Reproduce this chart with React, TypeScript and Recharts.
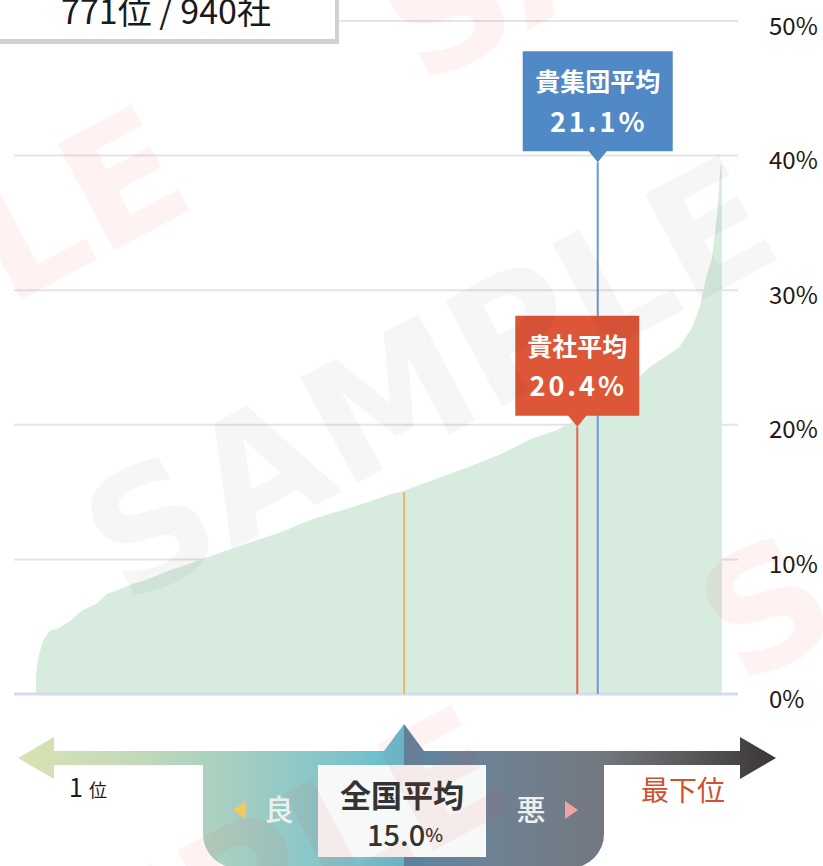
import React from "react";
import {
  ComposedChart,
  Area,
  XAxis,
  YAxis,
  CartesianGrid,
  ReferenceLine,
  ReferenceDot,
} from "recharts";

// 940社を率の低い順に並べた分布
const ranks = [
  1, 2, 4, 11, 20, 31, 48, 64, 84, 98, 112, 134, 147, 167, 184, 208, 225, 280,
  335, 380, 435, 490, 505, 544, 591, 636, 681, 714, 728, 742, 770, 800, 828,
  841, 864, 882, 900, 910, 919, 926, 930, 934, 938, 940,
];
const rates = [
  1.2, 1.8, 2.7, 4.0, 4.7, 4.85, 5.45, 6.2, 6.7, 7.45, 7.7, 8.2, 8.4, 8.8, 9.2,
  9.6, 9.95, 11.0, 12.0, 13.0, 13.9, 14.9, 15.1, 15.9, 16.8, 17.8, 19.0, 19.6,
  20.0, 20.4, 21.2, 22.3, 23.6, 24.3, 25.1, 25.8, 27.3, 28.8, 31.1, 32.3, 34.0,
  36.0, 39.3, 39.3,
];
const yTicks = [0, 10, 20, 30, 40, 50];

const national = { rank: 505, value: 15.0 };
const company = { rank: 742, value: 20.4, labelAt: 19.85, title: "貴社平均" };
const group = { rank: 770, value: 21.1, labelAt: 39.5, title: "貴集団平均" };

const data = ranks.map((r, i) => ({ rank: r, rate: rates[i] }));

const JP = "'Noto Sans CJK JP', 'Noto Sans', sans-serif";

const YTick = (props: any) => {
  const { x, y, payload } = props;
  return (
    <text
      x={x}
      y={y + 3}
      textAnchor="start"
      dominantBaseline="central"
      fontSize={24}
      fontFamily={JP}
      fill="#231815"
    >
      {payload.value}%
    </text>
  );
};

function Callout(props: any) {
  const { cx, cy, color, title, value, width } = props;
  if (cx == null || cy == null) return null;
  const h = 100;
  const tip = 11;
  const hw = 9;
  const top = cy - tip - h;
  const l = cx - width / 2;
  const r = cx + width / 2;
  const d = `M${l},${top} H${r} V${top + h} H${cx + hw} L${cx},${cy} L${cx - hw},${top + h} H${l} Z`;
  return (
    <g>
      <path d={d} fill={color} />
      <text
        x={cx}
        y={cy - 82}
        textAnchor="middle"
        dominantBaseline="central"
        fontSize={25}
        fontWeight={700}
        fontFamily={JP}
        fill="#fff"
      >
        {title}
      </text>
      <text
        x={cx + 1}
        y={cy - 42}
        textAnchor="middle"
        dominantBaseline="central"
        fontSize={27}
        fontWeight={700}
        letterSpacing={3}
        fontFamily={JP}
        fill="#fff"
      >
        {value.toFixed(1)}%
      </text>
    </g>
  );
}

function BottomScale() {
  const shape =
    "M18,758 L54,737 L54,751 L384,751 L404,724 L424,751 L740,751 L740,737 L776,758 L740,779 L740,765 L604,765 L604,834 A34,34 0 0 1 570,868 L237,868 A34,34 0 0 1 203,834 L203,765 L54,765 L54,779 Z";
  return (
    <g>
      <defs>
        <linearGradient id="scaleGrad" gradientUnits="userSpaceOnUse" x1={18} y1={0} x2={776} y2={0}>
          <stop offset="0" stopColor="#d9e3b2" />
          <stop offset="0.15" stopColor="#c3dab9" />
          <stop offset="0.3" stopColor="#a2cdc3" />
          <stop offset="0.45" stopColor="#78c2cc" />
          <stop offset="0.509" stopColor="#5fbcd0" />
          <stop offset="0.509" stopColor="#5b83a0" />
          <stop offset="0.62" stopColor="#6e8294" />
          <stop offset="0.77" stopColor="#737880" />
          <stop offset="0.88" stopColor="#5b5a5c" />
          <stop offset="1" stopColor="#393533" />
        </linearGradient>
      </defs>
      <path d={shape} fill="url(#scaleGrad)" />
      <rect x={318} y={765} width={168} height={92} fill="#f7f8f8" />
      <text x={402} y={793} textAnchor="middle" dominantBaseline="central" fontSize={31} fontWeight={700} fontFamily={JP} fill="#333">
        全国平均
      </text>
      <text x={405} y={833} textAnchor="middle" dominantBaseline="central" fontFamily={JP} fill="#333">
        <tspan fontSize={29} fontWeight={500}>15.0</tspan>
        <tspan fontSize={19} fontWeight={500}>%</tspan>
      </text>
      <path d="M233,810 L246,801 L246,819 Z" fill="#f2c960" />
      <text x={279} y={808} textAnchor="middle" dominantBaseline="central" fontSize={29} fontWeight={500} fontFamily={JP} fill="#eef0f0">
        良
      </text>
      <text x={531} y={808} textAnchor="middle" dominantBaseline="central" fontSize={29} fontWeight={500} fontFamily={JP} fill="#eef0f0">
        悪
      </text>
      <path d="M578,810 L565,801 L565,819 Z" fill="#f0a3a6" />
      <text x={69} y={797} fontFamily={JP} fill="#231815">
        <tspan fontSize={25}>1</tspan>
        <tspan dx={6} fontSize={18}>位</tspan>
      </text>
      <text x={641} y={801} fontSize={28} fontFamily={JP} fill="#d2502e">
        最下位
      </text>
    </g>
  );
}

function RankBox() {
  return (
    <g>
      <rect x={-6} y={-6} width={345} height={50} fill="#d0d0d0" />
      <rect x={-10} y={-10} width={345} height={49} fill="#ffffff" />
      <text x={166} y={24} textAnchor="middle" fontSize={34} fontFamily={JP} fill="#1a1a1a">
        771位 / 940社
      </text>
    </g>
  );
}

function Watermark() {
  const word = "SAMPLE";
  const common = {
    fontSize: 165,
    fontWeight: 900,
    fontFamily: "'DejaVu Sans', sans-serif",
    textAnchor: "middle" as const,
    dominantBaseline: "central" as const,
  };
  const red = { fill: "#f04040", fillOpacity: 0.065 };
  return (
    <g transform="rotate(-28 430 380)">
      <text x={430 - 495} y={380 - 320} {...red} {...common}>{word}</text>
      <text x={430 + 505} y={380 - 320} {...red} {...common}>{word}</text>
      <text x={430} y={380} fill="#000" fillOpacity={0.035} {...common}>{word}</text>
      <text x={430 - 495} y={380 + 360} {...red} {...common}>{word}</text>
      <text x={430 + 505} y={380 + 360} {...red} {...common}>{word}</text>
    </g>
  );
}

export default function App() {
  return (
    <div style={{ position: "absolute", left: 0, top: 0, width: 823, height: 866, overflow: "hidden", background: "#fff" }}>
      <ComposedChart
        width={823}
        height={866}
        data={data}
        margin={{ top: 21, right: 0, bottom: 172, left: 14 }}
      >
        <CartesianGrid vertical={false} stroke="#e4e4e4" strokeWidth={2} />
        <XAxis type="number" dataKey="rank" domain={[-29, 962]} hide allowDataOverflow />
        <YAxis
          orientation="right"
          domain={[0, 50]}
          ticks={yTicks}
          interval={0}
          width={85}
          axisLine={false}
          tickLine={false}
          tickSize={0}
          tickMargin={31}
          tick={YTick}
        />
        <Area
          type="linear"
          dataKey="rate"
          stroke="none"
          fill="#d5eadd"
          fillOpacity={0.95}
          isAnimationActive={false}
        />
        <ReferenceLine y={0} stroke="#d4dbec" strokeWidth={3} />
        <ReferenceLine
          segment={[{ x: national.rank, y: 0 }, { x: national.rank, y: national.value }]}
          stroke="#f5a742"
          strokeWidth={1.5}
        />
        <ReferenceLine
          segment={[{ x: company.rank, y: 0 }, { x: company.rank, y: company.labelAt }]}
          stroke="#e0664a"
          strokeWidth={2}
        />
        <ReferenceLine
          segment={[{ x: group.rank, y: 0 }, { x: group.rank, y: group.labelAt }]}
          stroke="#6b9bd1"
          strokeWidth={2}
        />
        <ReferenceDot
          x={company.rank}
          y={company.labelAt}
          shape={(p: any) => (
            <Callout {...p} color="#dd5638" title={company.title} value={company.value} width={124} />
          )}
        />
        <ReferenceDot
          x={group.rank}
          y={group.labelAt}
          shape={(p: any) => (
            <Callout {...p} color="#5089c6" title={group.title} value={group.value} width={150} />
          )}
        />
      </ComposedChart>
      <svg
        width={823}
        height={866}
        style={{ position: "absolute", left: 0, top: 0, pointerEvents: "none" }}
      >
        <RankBox />
        <BottomScale />
        <Watermark />
      </svg>
    </div>
  );
}
